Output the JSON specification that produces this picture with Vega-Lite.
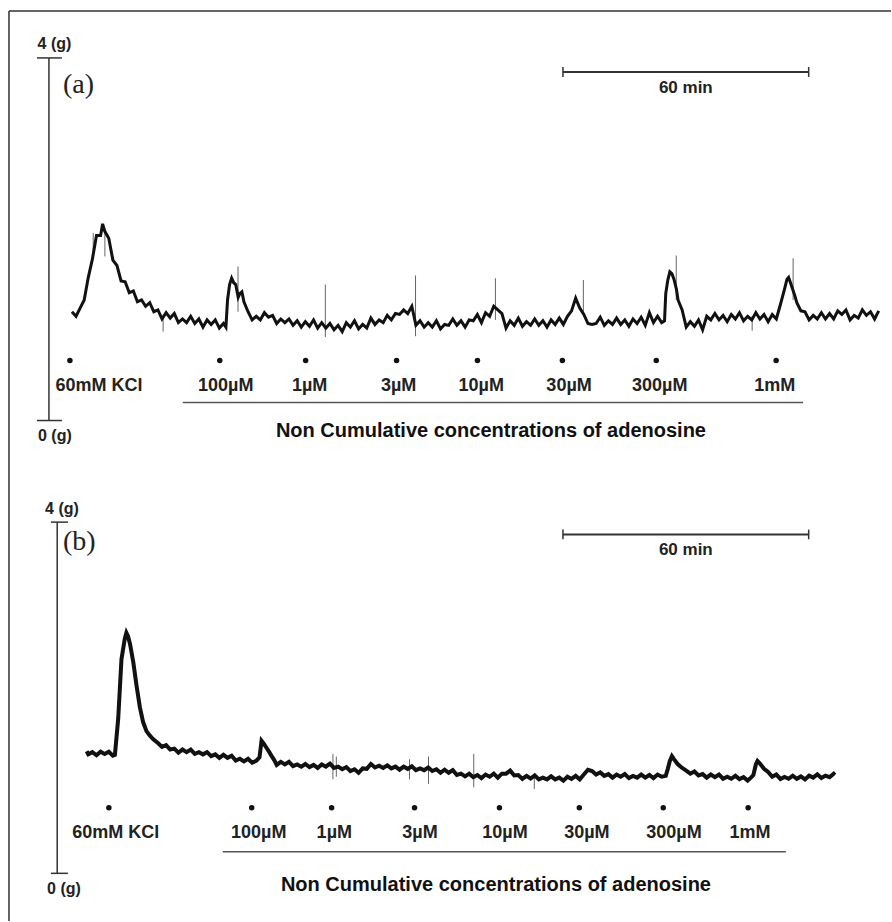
{
"$schema": "https://vega.github.io/schema/vega-lite/v6.json",
"width": 892, "height": 922, "padding": 0,
"autosize": {"type": "fit", "contains": "padding"},
"background": "white",
"config": {"view": {"stroke": null}, "axis": {"disable": true}},
"datasets": {
"traceA": [
{"t":0,"g":1.20},{"t":1,"g":1.15},{"t":2,"g":1.24},{"t":3,"g":1.33},{"t":4,"g":1.58},{"t":5,"g":1.78},{"t":6,"g":2.04},{"t":7,"g":2.04},{"t":7.5,"g":2.17},{"t":8,"g":2.09},{"t":9,"g":2.01},{"t":10,"g":1.77},{"t":11,"g":1.71},{"t":12,"g":1.54},{"t":13,"g":1.53},{"t":14,"g":1.41},{"t":15,"g":1.43},{"t":16,"g":1.31},{"t":17,"g":1.33},{"t":18,"g":1.26},{"t":19,"g":1.30},{"t":20,"g":1.20},{"t":21,"g":1.22},{"t":22,"g":1.12},{"t":23,"g":1.19},{"t":24,"g":1.13},{"t":25,"g":1.18},{"t":26,"g":1.08},{"t":27,"g":1.12},{"t":28,"g":1.08},{"t":29,"g":1.15},{"t":30,"g":1.07},{"t":31,"g":1.12},{"t":32,"g":1.03},{"t":33,"g":1.11},{"t":34,"g":1.06},{"t":35,"g":1.11},{"t":36,"g":1.02},{"t":37,"g":1.07},{"t":37.6,"g":1.03},{"t":38,"g":1.33},{"t":38.5,"g":1.50},{"t":39,"g":1.57},{"t":39.5,"g":1.52},{"t":40,"g":1.50},{"t":40.6,"g":1.36},{"t":41,"g":1.40},{"t":41.5,"g":1.42},{"t":42,"g":1.31},{"t":43,"g":1.20},{"t":44,"g":1.11},{"t":45,"g":1.15},{"t":46,"g":1.11},{"t":47,"g":1.19},{"t":48,"g":1.14},{"t":49,"g":1.16},{"t":50,"g":1.07},{"t":51,"g":1.12},{"t":52,"g":1.08},{"t":53,"g":1.12},{"t":54,"g":1.05},{"t":55,"g":1.10},{"t":56,"g":1.03},{"t":57,"g":1.09},{"t":58,"g":1.04},{"t":59,"g":1.11},{"t":60,"g":1.02},{"t":61,"g":1.08},{"t":62,"g":1.02},{"t":63,"g":1.07},{"t":64,"g":1.00},{"t":65,"g":1.05},{"t":66,"g":0.98},{"t":67,"g":1.08},{"t":68,"g":1.03},{"t":69,"g":1.10},{"t":70,"g":1.01},{"t":71,"g":1.06},{"t":72,"g":1.02},{"t":73,"g":1.13},{"t":74,"g":1.06},{"t":75,"g":1.11},{"t":76,"g":1.08},{"t":77,"g":1.16},{"t":78,"g":1.11},{"t":79,"g":1.18},{"t":80,"g":1.17},{"t":81,"g":1.22},{"t":82,"g":1.18},{"t":83,"g":1.26},{"t":84,"g":1.05},{"t":85,"g":1.10},{"t":86,"g":1.03},{"t":87,"g":1.08},{"t":88,"g":1.03},{"t":89,"g":1.10},{"t":90,"g":1.01},{"t":91,"g":1.06},{"t":92,"g":1.05},{"t":93,"g":1.12},{"t":94,"g":1.05},{"t":95,"g":1.10},{"t":96,"g":1.03},{"t":97,"g":1.11},{"t":98,"g":1.10},{"t":99,"g":1.17},{"t":100,"g":1.08},{"t":101,"g":1.19},{"t":102,"g":1.15},{"t":103,"g":1.26},{"t":104,"g":1.22},{"t":105,"g":1.18},{"t":106,"g":1.02},{"t":107,"g":1.10},{"t":108,"g":1.05},{"t":109,"g":1.13},{"t":110,"g":1.04},{"t":111,"g":1.09},{"t":112,"g":1.05},{"t":113,"g":1.12},{"t":114,"g":1.05},{"t":115,"g":1.10},{"t":116,"g":1.03},{"t":117,"g":1.11},{"t":118,"g":1.06},{"t":119,"g":1.13},{"t":120,"g":1.06},{"t":121,"g":1.15},{"t":122,"g":1.21},{"t":123,"g":1.35},{"t":124,"g":1.24},{"t":125,"g":1.17},{"t":126,"g":1.07},{"t":127,"g":1.06},{"t":128,"g":1.07},{"t":129,"g":1.14},{"t":130,"g":1.05},{"t":131,"g":1.10},{"t":132,"g":1.06},{"t":133,"g":1.13},{"t":134,"g":1.06},{"t":135,"g":1.11},{"t":136,"g":1.04},{"t":137,"g":1.12},{"t":138,"g":1.07},{"t":139,"g":1.14},{"t":140,"g":1.05},{"t":141,"g":1.19},{"t":142,"g":1.08},{"t":143,"g":1.15},{"t":144,"g":1.08},{"t":144.7,"g":1.10},{"t":145,"g":1.40},{"t":145.5,"g":1.55},{"t":146,"g":1.64},{"t":146.5,"g":1.62},{"t":147,"g":1.56},{"t":147.6,"g":1.45},{"t":148,"g":1.33},{"t":149,"g":1.22},{"t":150,"g":1.03},{"t":151,"g":1.09},{"t":152,"g":1.04},{"t":153,"g":1.11},{"t":154,"g":1.00},{"t":155,"g":1.15},{"t":156,"g":1.11},{"t":157,"g":1.18},{"t":158,"g":1.11},{"t":159,"g":1.16},{"t":160,"g":1.09},{"t":161,"g":1.17},{"t":162,"g":1.12},{"t":163,"g":1.19},{"t":164,"g":1.10},{"t":165,"g":1.15},{"t":166,"g":1.11},{"t":167,"g":1.19},{"t":168,"g":1.12},{"t":169,"g":1.17},{"t":170,"g":1.09},{"t":171,"g":1.17},{"t":172,"g":1.12},{"t":173,"g":1.28},{"t":174,"g":1.45},{"t":174.6,"g":1.56},{"t":175,"g":1.58},{"t":175.6,"g":1.50},{"t":176.5,"g":1.38},{"t":177,"g":1.30},{"t":178,"g":1.21},{"t":179,"g":1.20},{"t":180,"g":1.11},{"t":181,"g":1.16},{"t":182,"g":1.12},{"t":183,"g":1.19},{"t":184,"g":1.12},{"t":185,"g":1.18},{"t":186,"g":1.12},{"t":187,"g":1.21},{"t":188,"g":1.17},{"t":189,"g":1.22},{"t":190,"g":1.11},{"t":191,"g":1.16},{"t":192,"g":1.13},{"t":193,"g":1.22},{"t":194,"g":1.16},{"t":195,"g":1.20},{"t":196,"g":1.12},{"t":197,"g":1.21}
],
"traceB": [
{"t":3.6,"g":1.39},{"t":4,"g":1.355},{"t":5,"g":1.38},{"t":6,"g":1.345},{"t":7,"g":1.385},{"t":8,"g":1.36},{"t":9,"g":1.385},{"t":10,"g":1.34},{"t":10.5,"g":1.35},{"t":11.3,"g":1.76},{"t":12.1,"g":2.44},{"t":12.9,"g":2.67},{"t":13.3,"g":2.74},{"t":13.7,"g":2.70},{"t":14.2,"g":2.61},{"t":15,"g":2.40},{"t":15.8,"g":2.13},{"t":16.6,"g":1.89},{"t":17.4,"g":1.72},{"t":18.2,"g":1.62},{"t":19,"g":1.57},{"t":19.8,"g":1.53},{"t":21,"g":1.485},{"t":22,"g":1.44},{"t":23,"g":1.46},{"t":24,"g":1.41},{"t":25,"g":1.42},{"t":26,"g":1.375},{"t":27,"g":1.41},{"t":28,"g":1.38},{"t":29,"g":1.41},{"t":30,"g":1.36},{"t":31,"g":1.38},{"t":32,"g":1.355},{"t":33,"g":1.38},{"t":34,"g":1.335},{"t":35,"g":1.355},{"t":36,"g":1.315},{"t":37,"g":1.35},{"t":38,"g":1.315},{"t":39,"g":1.34},{"t":40,"g":1.285},{"t":41,"g":1.305},{"t":42,"g":1.275},{"t":43,"g":1.305},{"t":44,"g":1.26},{"t":45,"g":1.28},{"t":45.8,"g":1.32},{"t":46.3,"g":1.51},{"t":46.8,"g":1.48},{"t":47.5,"g":1.43},{"t":48.2,"g":1.38},{"t":48.7,"g":1.34},{"t":49.4,"g":1.29},{"t":50,"g":1.235},{"t":51,"g":1.27},{"t":52,"g":1.24},{"t":53,"g":1.27},{"t":54,"g":1.22},{"t":55,"g":1.24},{"t":56,"g":1.215},{"t":57,"g":1.245},{"t":58,"g":1.21},{"t":59,"g":1.235},{"t":60,"g":1.20},{"t":61,"g":1.24},{"t":62,"g":1.215},{"t":63,"g":1.25},{"t":64,"g":1.20},{"t":65,"g":1.215},{"t":66,"g":1.185},{"t":67,"g":1.21},{"t":68,"g":1.165},{"t":69,"g":1.185},{"t":70,"g":1.145},{"t":71,"g":1.195},{"t":72,"g":1.19},{"t":73,"g":1.245},{"t":74,"g":1.205},{"t":75,"g":1.225},{"t":76,"g":1.20},{"t":77,"g":1.23},{"t":78,"g":1.195},{"t":79,"g":1.215},{"t":80,"g":1.18},{"t":81,"g":1.215},{"t":82,"g":1.19},{"t":83,"g":1.22},{"t":84,"g":1.175},{"t":85,"g":1.195},{"t":86,"g":1.175},{"t":87,"g":1.205},{"t":88,"g":1.165},{"t":89,"g":1.185},{"t":90,"g":1.145},{"t":91,"g":1.18},{"t":92,"g":1.145},{"t":93,"g":1.175},{"t":94,"g":1.12},{"t":95,"g":1.135},{"t":96,"g":1.105},{"t":97,"g":1.135},{"t":98,"g":1.095},{"t":99,"g":1.12},{"t":100,"g":1.085},{"t":101,"g":1.125},{"t":102,"g":1.10},{"t":103,"g":1.135},{"t":104,"g":1.09},{"t":105,"g":1.135},{"t":106,"g":1.135},{"t":107,"g":1.17},{"t":108,"g":1.115},{"t":109,"g":1.12},{"t":110,"g":1.075},{"t":111,"g":1.11},{"t":112,"g":1.08},{"t":113,"g":1.115},{"t":114,"g":1.07},{"t":115,"g":1.09},{"t":116,"g":1.07},{"t":117,"g":1.105},{"t":118,"g":1.07},{"t":119,"g":1.09},{"t":120,"g":1.055},{"t":121,"g":1.10},{"t":122,"g":1.075},{"t":123,"g":1.11},{"t":124,"g":1.07},{"t":125,"g":1.125},{"t":126,"g":1.18},{"t":127,"g":1.165},{"t":128,"g":1.125},{"t":129,"g":1.15},{"t":130,"g":1.11},{"t":131,"g":1.13},{"t":132,"g":1.09},{"t":133,"g":1.125},{"t":134,"g":1.10},{"t":135,"g":1.13},{"t":136,"g":1.085},{"t":137,"g":1.11},{"t":138,"g":1.09},{"t":139,"g":1.125},{"t":140,"g":1.09},{"t":141,"g":1.12},{"t":142,"g":1.085},{"t":143,"g":1.125},{"t":144,"g":1.10},{"t":145,"g":1.11},{"t":145.5,"g":1.19},{"t":146,"g":1.28},{"t":146.5,"g":1.335},{"t":147,"g":1.30},{"t":147.9,"g":1.245},{"t":149,"g":1.20},{"t":150,"g":1.17},{"t":151,"g":1.135},{"t":152,"g":1.16},{"t":153,"g":1.115},{"t":154,"g":1.13},{"t":155,"g":1.09},{"t":156,"g":1.125},{"t":157,"g":1.095},{"t":158,"g":1.125},{"t":159,"g":1.077},{"t":160,"g":1.10},{"t":161,"g":1.077},{"t":162,"g":1.11},{"t":163,"g":1.073},{"t":164,"g":1.095},{"t":165,"g":1.057},{"t":165.8,"g":1.09},{"t":166.4,"g":1.12},{"t":167,"g":1.24},{"t":167.4,"g":1.28},{"t":168,"g":1.25},{"t":169,"g":1.19},{"t":170,"g":1.155},{"t":171,"g":1.10},{"t":172,"g":1.125},{"t":173,"g":1.075},{"t":174,"g":1.098},{"t":175,"g":1.077},{"t":176,"g":1.112},{"t":177,"g":1.077},{"t":178,"g":1.103},{"t":179,"g":1.07},{"t":180,"g":1.112},{"t":181,"g":1.09},{"t":182,"g":1.127},{"t":183,"g":1.085},{"t":184,"g":1.113},{"t":185,"g":1.095},{"t":186,"g":1.135},{"t":186.3,"g":1.12}
],
"spikesA": [
{"t":5.2,"g1":1.87,"g2":2.07},{"t":8.05,"g1":1.81,"g2":2.12},{"t":22.27,"g1":0.98,"g2":1.17},{"t":40.56,"g1":1.2,"g2":1.7},{"t":61.88,"g1":0.92,"g2":1.5},{"t":83.9,"g1":0.93,"g2":1.6},{"t":103.41,"g1":1.11,"g2":1.57},{"t":124.88,"g1":1.2,"g2":1.55},{"t":147.56,"g1":1.33,"g2":1.82},{"t":166.1,"g1":0.99,"g2":1.15},{"t":176.1,"g1":1.33,"g2":1.79}
],
"spikesB": [
{"t":63.73,"g1":1.07,"g2":1.36},{"t":64.56,"g1":1.1,"g2":1.33},{"t":82.44,"g1":1.07,"g2":1.3},{"t":87.07,"g1":1.02,"g2":1.33},{"t":98.12,"g1":0.98,"g2":1.36},{"t":112.9,"g1":0.96,"g2":1.09}
],
"dosesA": [
{"dose":"60mM KCl","t_add":-0.49,"t_label":6.59},{"dose":"100µM","t_add":36.1,"t_label":37.56},{"dose":"1µM","t_add":57.07,"t_label":58.05},{"dose":"3µM","t_add":79.27,"t_label":79.76},{"dose":"10µM","t_add":99.02,"t_label":99.93},{"dose":"30µM","t_add":119.76,"t_label":121.39},{"dose":"300µM","t_add":142.68,"t_label":143.54},{"dose":"1mM","t_add":171.95,"t_label":171.59}
],
"dosesB": [
{"dose":"60mM KCl","t_add":9.02,"t_label":10.73},{"dose":"100µM","t_add":43.9,"t_label":45.61},{"dose":"1µM","t_add":63.41,"t_label":64.07},{"dose":"3µM","t_add":83.66,"t_label":85.0},{"dose":"10µM","t_add":104.39,"t_label":105.73},{"dose":"30µM","t_add":123.9,"t_label":125.73},{"dose":"300µM","t_add":144.39,"t_label":147.0},{"dose":"1mM","t_add":165.12,"t_label":165.56}
]
},
"resolve": {"scale": {"y": "independent"}},
"layer": [
{
"data": {"values": [{}]},
"layer": [
{"mark": {"type": "rule", "color": "#333", "strokeWidth": 1.5},
 "encoding": {"x": {"datum": -15.37, "type": "quantitative", "scale": {"domain": [-17.56, 200], "nice": false, "zero": false}, "axis": null}, "x2": {"datum": 200}, "y": {"datum": 4.518, "type": "quantitative", "scale": {"domain": [-5.521, 4.639], "nice": false, "zero": false}, "axis": null}}},
{"mark": {"type": "rule", "color": "#333", "strokeWidth": 1.5},
 "encoding": {"x": {"datum": -15.37, "type": "quantitative", "scale": {"domain": [-17.56, 200], "nice": false, "zero": false}, "axis": null}, "y": {"datum": 4.518, "type": "quantitative", "scale": {"domain": [-5.521, 4.639], "nice": false, "zero": false}, "axis": null}, "y2": {"datum": -5.521}}},
{"mark": {"type": "rule", "color": "#333", "strokeWidth": 1.5},
 "encoding": {"x": {"datum": -5.61, "type": "quantitative", "scale": {"domain": [-17.56, 200], "nice": false, "zero": false}, "axis": null}, "y": {"datum": 0, "type": "quantitative", "scale": {"domain": [-5.521, 4.639], "nice": false, "zero": false}, "axis": null}, "y2": {"datum": 4}}},
{"mark": {"type": "rule", "color": "#333", "strokeWidth": 1.5},
 "encoding": {"x": {"datum": -8.54, "type": "quantitative", "scale": {"domain": [-17.56, 200], "nice": false, "zero": false}, "axis": null}, "x2": {"datum": -2.44}, "y": {"datum": 4, "type": "quantitative", "scale": {"domain": [-5.521, 4.639], "nice": false, "zero": false}, "axis": null}}},
{"mark": {"type": "rule", "color": "#333", "strokeWidth": 1.5},
 "encoding": {"x": {"datum": -8.54, "type": "quantitative", "scale": {"domain": [-17.56, 200], "nice": false, "zero": false}, "axis": null}, "x2": {"datum": -2.44}, "y": {"datum": 0, "type": "quantitative", "scale": {"domain": [-5.521, 4.639], "nice": false, "zero": false}, "axis": null}}},
{"mark": {"type": "text", "text": "4 (g)", "font": "Liberation Sans", "fontWeight": "bold", "fontSize": 16, "align": "center", "baseline": "middle", "color": "#222"},
 "encoding": {"x": {"datum": -4.27, "type": "quantitative", "scale": {"domain": [-17.56, 200], "nice": false, "zero": false}, "axis": null}, "y": {"datum": 4.154, "type": "quantitative", "scale": {"domain": [-5.521, 4.639], "nice": false, "zero": false}, "axis": null}}},
{"mark": {"type": "text", "text": "0 (g)", "font": "Liberation Sans", "fontWeight": "bold", "fontSize": 16, "align": "center", "baseline": "middle", "color": "#222"},
 "encoding": {"x": {"datum": -4.15, "type": "quantitative", "scale": {"domain": [-17.56, 200], "nice": false, "zero": false}, "axis": null}, "y": {"datum": -0.176, "type": "quantitative", "scale": {"domain": [-5.521, 4.639], "nice": false, "zero": false}, "axis": null}}},
{"mark": {"type": "text", "text": "(a)", "font": "Liberation Serif", "fontSize": 28, "align": "left", "baseline": "middle", "color": "#222"},
 "encoding": {"x": {"datum": -2.2, "type": "quantitative", "scale": {"domain": [-17.56, 200], "nice": false, "zero": false}, "axis": null}, "y": {"datum": 3.702, "type": "quantitative", "scale": {"domain": [-5.521, 4.639], "nice": false, "zero": false}, "axis": null}}},
{"mark": {"type": "rule", "color": "#333", "strokeWidth": 2},
 "encoding": {"x": {"datum": 119.9, "type": "quantitative", "scale": {"domain": [-17.56, 200], "nice": false, "zero": false}, "axis": null}, "x2": {"datum": 179.9}, "y": {"datum": 3.846, "type": "quantitative", "scale": {"domain": [-5.521, 4.639], "nice": false, "zero": false}, "axis": null}}},
{"mark": {"type": "rule", "color": "#333", "strokeWidth": 1.5},
 "encoding": {"x": {"datum": 119.9, "type": "quantitative", "scale": {"domain": [-17.56, 200], "nice": false, "zero": false}, "axis": null}, "y": {"datum": 3.79, "type": "quantitative", "scale": {"domain": [-5.521, 4.639], "nice": false, "zero": false}, "axis": null}, "y2": {"datum": 3.9}}},
{"mark": {"type": "rule", "color": "#333", "strokeWidth": 1.5},
 "encoding": {"x": {"datum": 179.9, "type": "quantitative", "scale": {"domain": [-17.56, 200], "nice": false, "zero": false}, "axis": null}, "y": {"datum": 3.79, "type": "quantitative", "scale": {"domain": [-5.521, 4.639], "nice": false, "zero": false}, "axis": null}, "y2": {"datum": 3.9}}},
{"mark": {"type": "text", "text": "60 min", "font": "Liberation Sans", "fontWeight": "bold", "fontSize": 17, "align": "center", "baseline": "middle", "color": "#222"},
 "encoding": {"x": {"datum": 149.9, "type": "quantitative", "scale": {"domain": [-17.56, 200], "nice": false, "zero": false}, "axis": null}, "y": {"datum": 3.669, "type": "quantitative", "scale": {"domain": [-5.521, 4.639], "nice": false, "zero": false}, "axis": null}}},
{"data": {"name": "spikesA"}, "mark": {"type": "rule", "color": "#666", "strokeWidth": 1},
 "encoding": {"x": {"field": "t", "type": "quantitative", "scale": {"domain": [-17.56, 200], "nice": false, "zero": false}, "axis": null}, "y": {"field": "g1", "type": "quantitative", "scale": {"domain": [-5.521, 4.639], "nice": false, "zero": false}, "axis": null}, "y2": {"field": "g2"}}},
{"data": {"name": "traceA"}, "mark": {"type": "line", "color": "#111", "strokeWidth": 3},
 "encoding": {"x": {"field": "t", "type": "quantitative", "scale": {"domain": [-17.56, 200], "nice": false, "zero": false}, "axis": null}, "y": {"field": "g", "type": "quantitative", "scale": {"domain": [-5.521, 4.639], "nice": false, "zero": false}, "axis": null}}},
{"data": {"name": "dosesA"}, "mark": {"type": "point", "filled": true, "size": 30, "color": "#111", "opacity": 1},
 "encoding": {"x": {"field": "t_add", "type": "quantitative", "scale": {"domain": [-17.56, 200], "nice": false, "zero": false}, "axis": null}, "y": {"datum": 0.661, "type": "quantitative", "scale": {"domain": [-5.521, 4.639], "nice": false, "zero": false}, "axis": null}}},
{"data": {"name": "dosesA"}, "mark": {"type": "text", "font": "Liberation Sans", "fontWeight": "bold", "fontSize": 18, "align": "center", "baseline": "middle", "color": "#222"},
 "encoding": {"x": {"field": "t_label", "type": "quantitative", "scale": {"domain": [-17.56, 200], "nice": false, "zero": false}, "axis": null}, "y": {"datum": 0.386, "type": "quantitative", "scale": {"domain": [-5.521, 4.639], "nice": false, "zero": false}, "axis": null}, "text": {"field": "dose"}}},
{"mark": {"type": "rule", "color": "#555", "strokeWidth": 1.5},
 "encoding": {"x": {"datum": 27.07, "type": "quantitative", "scale": {"domain": [-17.56, 200], "nice": false, "zero": false}, "axis": null}, "x2": {"datum": 178.54}, "y": {"datum": 0.198, "type": "quantitative", "scale": {"domain": [-5.521, 4.639], "nice": false, "zero": false}, "axis": null}}},
{"mark": {"type": "text", "text": "Non Cumulative concentrations of adenosine", "font": "Liberation Sans", "fontWeight": "bold", "fontSize": 20, "align": "center", "baseline": "middle", "color": "#111"},
 "encoding": {"x": {"datum": 102.32, "type": "quantitative", "scale": {"domain": [-17.56, 200], "nice": false, "zero": false}, "axis": null}, "y": {"datum": -0.121, "type": "quantitative", "scale": {"domain": [-5.521, 4.639], "nice": false, "zero": false}, "axis": null}}}
]
},
{
"data": {"values": [{}]},
"layer": [
{"mark": {"type": "rule", "color": "#333", "strokeWidth": 1.5},
 "encoding": {"x": {"datum": -3.59, "type": "quantitative", "scale": {"domain": [-17.56, 200], "nice": false, "zero": false}, "axis": null}, "y": {"datum": 0, "type": "quantitative", "scale": {"domain": [-0.543, 9.947], "nice": false, "zero": false}, "axis": null}, "y2": {"datum": 4}}},
{"mark": {"type": "rule", "color": "#333", "strokeWidth": 1.5},
 "encoding": {"x": {"datum": -5.12, "type": "quantitative", "scale": {"domain": [-17.56, 200], "nice": false, "zero": false}, "axis": null}, "x2": {"datum": -0.98}, "y": {"datum": 4, "type": "quantitative", "scale": {"domain": [-0.543, 9.947], "nice": false, "zero": false}, "axis": null}}},
{"mark": {"type": "rule", "color": "#333", "strokeWidth": 1.5},
 "encoding": {"x": {"datum": -5.12, "type": "quantitative", "scale": {"domain": [-17.56, 200], "nice": false, "zero": false}, "axis": null}, "x2": {"datum": -0.98}, "y": {"datum": 0, "type": "quantitative", "scale": {"domain": [-0.543, 9.947], "nice": false, "zero": false}, "axis": null}}},
{"mark": {"type": "text", "text": "4 (g)", "font": "Liberation Sans", "fontWeight": "bold", "fontSize": 16, "align": "center", "baseline": "middle", "color": "#222"},
 "encoding": {"x": {"datum": -2.44, "type": "quantitative", "scale": {"domain": [-17.56, 200], "nice": false, "zero": false}, "axis": null}, "y": {"datum": 4.144, "type": "quantitative", "scale": {"domain": [-0.543, 9.947], "nice": false, "zero": false}, "axis": null}}},
{"mark": {"type": "text", "text": "0 (g)", "font": "Liberation Sans", "fontWeight": "bold", "fontSize": 16, "align": "center", "baseline": "middle", "color": "#222"},
 "encoding": {"x": {"datum": -1.95, "type": "quantitative", "scale": {"domain": [-17.56, 200], "nice": false, "zero": false}, "axis": null}, "y": {"datum": -0.179, "type": "quantitative", "scale": {"domain": [-0.543, 9.947], "nice": false, "zero": false}, "axis": null}}},
{"mark": {"type": "text", "text": "(b)", "font": "Liberation Serif", "fontSize": 28, "align": "left", "baseline": "middle", "color": "#222"},
 "encoding": {"x": {"datum": -2.2, "type": "quantitative", "scale": {"domain": [-17.56, 200], "nice": false, "zero": false}, "axis": null}, "y": {"datum": 3.769, "type": "quantitative", "scale": {"domain": [-0.543, 9.947], "nice": false, "zero": false}, "axis": null}}},
{"mark": {"type": "rule", "color": "#333", "strokeWidth": 2},
 "encoding": {"x": {"datum": 119.9, "type": "quantitative", "scale": {"domain": [-17.56, 200], "nice": false, "zero": false}, "axis": null}, "x2": {"datum": 179.9}, "y": {"datum": 3.86, "type": "quantitative", "scale": {"domain": [-0.543, 9.947], "nice": false, "zero": false}, "axis": null}}},
{"mark": {"type": "rule", "color": "#333", "strokeWidth": 1.5},
 "encoding": {"x": {"datum": 119.9, "type": "quantitative", "scale": {"domain": [-17.56, 200], "nice": false, "zero": false}, "axis": null}, "y": {"datum": 3.805, "type": "quantitative", "scale": {"domain": [-0.543, 9.947], "nice": false, "zero": false}, "axis": null}, "y2": {"datum": 3.915}}},
{"mark": {"type": "rule", "color": "#333", "strokeWidth": 1.5},
 "encoding": {"x": {"datum": 179.9, "type": "quantitative", "scale": {"domain": [-17.56, 200], "nice": false, "zero": false}, "axis": null}, "y": {"datum": 3.805, "type": "quantitative", "scale": {"domain": [-0.543, 9.947], "nice": false, "zero": false}, "axis": null}, "y2": {"datum": 3.915}}},
{"mark": {"type": "text", "text": "60 min", "font": "Liberation Sans", "fontWeight": "bold", "fontSize": 17, "align": "center", "baseline": "middle", "color": "#222"},
 "encoding": {"x": {"datum": 149.9, "type": "quantitative", "scale": {"domain": [-17.56, 200], "nice": false, "zero": false}, "axis": null}, "y": {"datum": 3.681, "type": "quantitative", "scale": {"domain": [-0.543, 9.947], "nice": false, "zero": false}, "axis": null}}},
{"data": {"name": "spikesB"}, "mark": {"type": "rule", "color": "#666", "strokeWidth": 1},
 "encoding": {"x": {"field": "t", "type": "quantitative", "scale": {"domain": [-17.56, 200], "nice": false, "zero": false}, "axis": null}, "y": {"field": "g1", "type": "quantitative", "scale": {"domain": [-0.543, 9.947], "nice": false, "zero": false}, "axis": null}, "y2": {"field": "g2"}}},
{"data": {"name": "traceB"}, "mark": {"type": "line", "color": "#111", "strokeWidth": 4},
 "encoding": {"x": {"field": "t", "type": "quantitative", "scale": {"domain": [-17.56, 200], "nice": false, "zero": false}, "axis": null}, "y": {"field": "g", "type": "quantitative", "scale": {"domain": [-0.543, 9.947], "nice": false, "zero": false}, "axis": null}}},
{"data": {"name": "dosesB"}, "mark": {"type": "point", "filled": true, "size": 30, "color": "#111", "opacity": 1},
 "encoding": {"x": {"field": "t_add", "type": "quantitative", "scale": {"domain": [-17.56, 200], "nice": false, "zero": false}, "axis": null}, "y": {"datum": 0.746, "type": "quantitative", "scale": {"domain": [-0.543, 9.947], "nice": false, "zero": false}, "axis": null}}},
{"data": {"name": "dosesB"}, "mark": {"type": "text", "font": "Liberation Sans", "fontWeight": "bold", "fontSize": 18, "align": "center", "baseline": "middle", "color": "#222"},
 "encoding": {"x": {"field": "t_label", "type": "quantitative", "scale": {"domain": [-17.56, 200], "nice": false, "zero": false}, "axis": null}, "y": {"datum": 0.458, "type": "quantitative", "scale": {"domain": [-0.543, 9.947], "nice": false, "zero": false}, "axis": null}, "text": {"field": "dose"}}},
{"mark": {"type": "rule", "color": "#555", "strokeWidth": 1.5},
 "encoding": {"x": {"datum": 36.83, "type": "quantitative", "scale": {"domain": [-17.56, 200], "nice": false, "zero": false}, "axis": null}, "x2": {"datum": 174.32}, "y": {"datum": 0.246, "type": "quantitative", "scale": {"domain": [-0.543, 9.947], "nice": false, "zero": false}, "axis": null}}},
{"mark": {"type": "text", "text": "Non Cumulative concentrations of adenosine", "font": "Liberation Sans", "fontWeight": "bold", "fontSize": 20, "align": "center", "baseline": "middle", "color": "#111"},
 "encoding": {"x": {"datum": 103.54, "type": "quantitative", "scale": {"domain": [-17.56, 200], "nice": false, "zero": false}, "axis": null}, "y": {"datum": -0.13, "type": "quantitative", "scale": {"domain": [-0.543, 9.947], "nice": false, "zero": false}, "axis": null}}}
]
}
]
}
